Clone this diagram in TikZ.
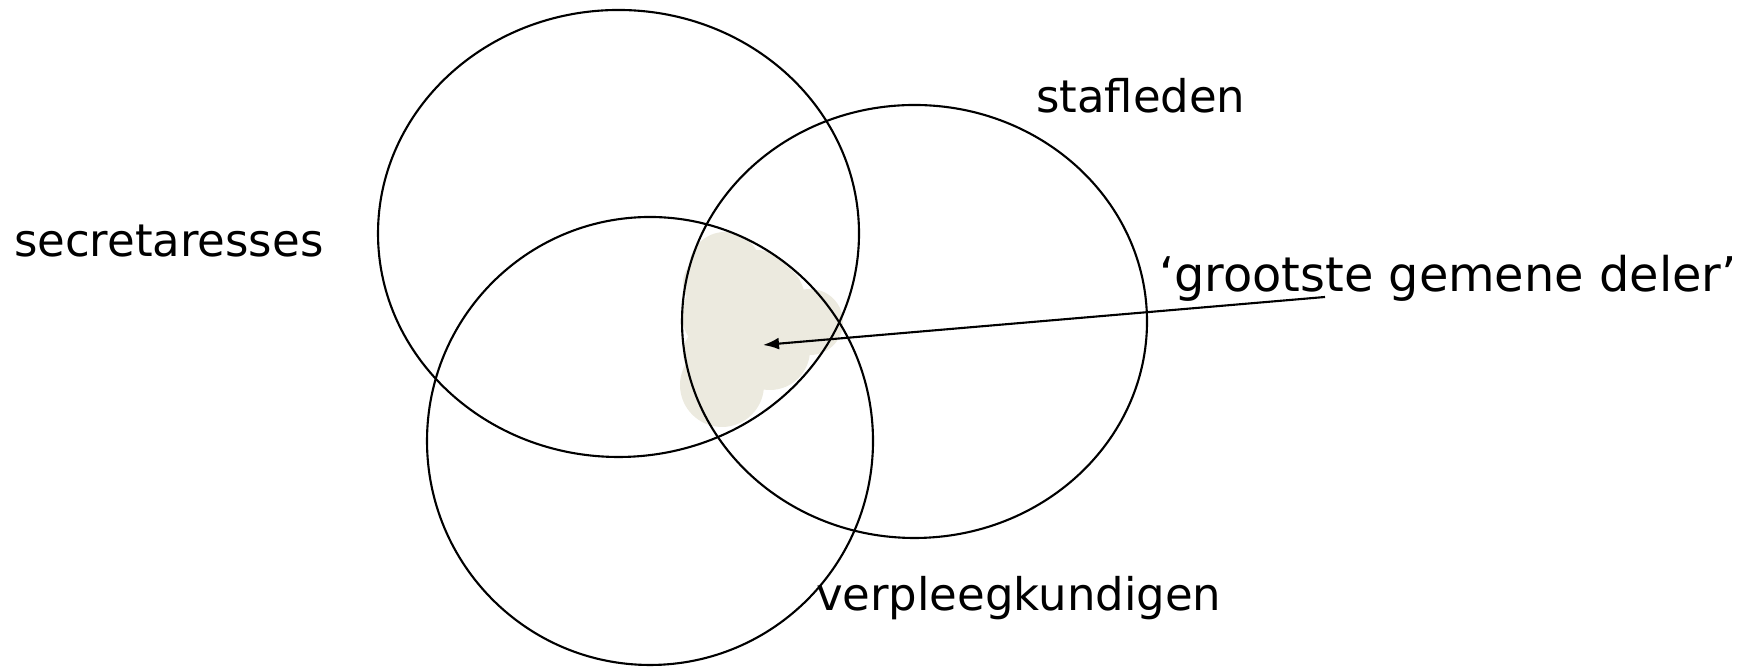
\documentclass[tikz,border=0pt]{standalone}
\usepackage{fontspec}
\setmainfont{DejaVu Sans}
\usetikzlibrary{arrows.meta}
\definecolor{kern}{RGB}{236,234,223}
\begin{document}
\begin{tikzpicture}[line width=0.6pt,
    lbl/.style={anchor=base west, inner sep=0pt, font=\fontsize{12.8}{15}\selectfont},
    biglbl/.style={anchor=base west, inner sep=0pt, font=\fontsize{13.6}{17}\selectfont}]
        \useasboundingbox (0, 0) rectangle (17.53, 6.68);
        % gemeenschappelijke kern
        \fill [kern] (7.25, 4.00) circle [radius = 0.36];
        \fill [kern] (7.57, 3.83) circle [radius = 0.35];
        \fill [kern] (8.10, 3.46) circle [radius = 0.33];
        \fill [kern] (7.22, 3.53) circle [radius = 0.40];
        \fill [kern] (7.11, 3.85) circle [radius = 0.28];
        \fill [kern] (7.22, 2.83) circle [radius = 0.42];
        \fill [kern] (7.11, 3.15) circle [radius = 0.28];
        \fill [kern] (7.70, 3.18) circle [radius = 0.40];
        \fill [kern] (7.65, 3.68) circle [radius = 0.40];
        % groepen
        \draw (6.185, 4.345) ellipse [x radius = 2.405, y radius = 2.235];
        \draw (9.145, 3.465) ellipse [x radius = 2.325, y radius = 2.165];
        \draw (6.50, 2.27) ellipse [x radius = 2.23, y radius = 2.24];
        \node [lbl] (secr) at (0.13, 4.11) {secretaresses};
        \node [lbl] (staf) at (10.35, 5.55) {stafleden};
        \node [lbl] (verpl) at (8.15, 0.57) {verpleegkundigen};
        \node [biglbl] (ggd) at (11.58, 3.76) {‘grootste gemene deler’};
        \coordinate (ggdstart) at (13.25, 3.71);
        \coordinate (core) at (7.63, 3.23);
        \draw [-{Latex[length=1.6mm, width=1.2mm]}] (ggdstart) -- (core);
\end{tikzpicture}
\end{document}
